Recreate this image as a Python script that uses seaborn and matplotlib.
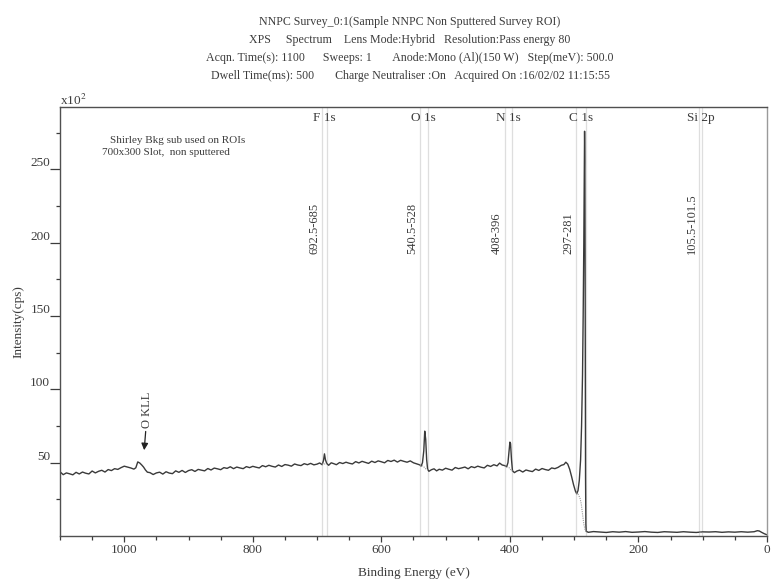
import numpy as np
import pandas as pd
import matplotlib
matplotlib.use("Agg")
import matplotlib.pyplot as plt
import seaborn as sns

# ---- survey spectrum (binding energy in eV, intensity in counts/s x 10^2) ----
binding_energy = [
    1100, 1095, 1090, 1085, 1080, 1075, 1070, 1065, 1060, 1055, 1050, 1045, 1040,
    1035, 1030, 1025, 1020, 1015, 1010, 1005, 1000, 995, 990, 985, 982, 979, 976,
    973, 970, 967, 964, 960, 955, 950, 945, 940, 935, 930, 925, 920, 915, 910, 905,
    900, 895, 890, 885, 880, 875, 870, 865, 860, 855, 850, 845, 840, 835, 830, 825,
    820, 815, 810, 805, 800, 795, 790, 785, 780, 775, 770, 765, 760, 755, 750, 745,
    740, 735, 730, 725, 720, 715, 710, 705, 700, 696, 692, 690, 688.5, 687, 685, 682,
    678, 674, 670, 665, 660, 655, 650, 645, 640, 635, 630, 625, 620, 615, 610, 605,
    600, 595, 590, 585, 580, 575, 570, 565, 560, 555, 550, 545, 541, 538, 536, 534,
    532.5, 531, 529.5, 528, 526, 522, 518, 514, 510, 505, 500, 495, 490, 485, 480,
    475, 470, 465, 460, 455, 450, 445, 440, 435, 430, 425, 420, 416, 412, 408, 405,
    403, 401.5, 400, 399, 397.5, 396, 393, 389, 385, 380, 375, 370, 365, 360, 355,
    350, 345, 340, 335, 330, 325, 320, 316, 313, 310, 307, 304, 301, 298, 296, 294,
    292, 290, 288.5, 287, 286, 285, 284.3, 283.8, 283.3, 282.8, 282.3, 281.8, 281.3,
    278, 270, 260, 250, 240, 230, 220, 210, 200, 190, 180, 170, 160, 150, 140, 130,
    120, 110, 100, 90, 80, 70, 60, 50, 40, 30, 20, 15, 12, 8, 4, 0,
]
intensity = [
    43.8, 41.8, 43.0, 42.4, 41.7, 43.4, 42.3, 43.6, 42.8, 42.3, 44.3, 43.0, 44.1,
    44.8, 43.6, 45.3, 44.6, 45.9, 45.4, 46.6, 47.6, 47.0, 46.4, 45.6, 46.5, 50.5, 49.8,
    48.5, 47.0, 45.0, 43.5, 43.2, 41.9, 43.0, 43.5, 42.2, 43.8, 42.9, 42.5, 44.4, 43.4, 44.7, 43.3,
    44.6, 45.2, 44.0, 45.4, 44.9, 44.4, 46.0, 45.0, 46.3, 45.8, 45.2, 46.6, 46.1, 47.2, 45.9, 47.0,
    46.4, 45.9, 47.3, 46.6, 47.5, 46.9, 46.4, 48.0, 47.2, 48.2, 47.5, 47.0, 48.4, 47.4, 48.7, 48.3,
    47.6, 49.1, 48.4, 48.0, 49.3, 48.6, 49.5, 48.5, 49.0, 49.8, 48.6, 51.5, 56.0, 52.0, 49.5, 48.2,
    49.9, 49.3, 48.6, 50.1, 49.4, 50.3, 49.6, 49.1, 50.7, 49.8, 50.9, 50.2, 49.5, 51.0, 50.1, 51.2,
    50.6, 49.9, 51.5, 50.8, 51.7, 50.4, 51.6, 50.9, 50.3, 51.2, 49.9, 49.2, 48.6, 47.7, 50.0, 58.0,
    71.5, 66.0, 52.0, 45.5, 44.1, 45.2, 45.8, 44.4, 45.5, 44.9, 46.2, 45.5, 44.9, 46.7, 45.9,
    46.4, 47.0, 45.8, 47.3, 46.6, 47.6, 46.9, 46.4, 48.2, 47.4, 48.6, 47.8, 49.7, 48.4, 48.0, 47.2,
    50.0, 57.0, 64.0, 63.0, 52.0, 44.5, 43.2, 44.3, 44.9, 43.6, 45.0, 44.4, 43.9, 45.6, 44.7,
    46.0, 45.3, 44.8, 46.4, 45.9, 46.8, 48.2, 48.7, 50.3, 49.0, 45.5, 40.5, 35.0, 30.5, 28.8, 31.0,
    38.0, 52.0, 75.0, 110.0, 150.0, 200.0, 250.0, 276.0, 255.0, 150.0, 40.0, 8.0, 3.2,
    2.5, 3.0, 2.7, 2.4, 2.9, 2.6, 3.0, 2.5, 2.7, 3.0, 2.6, 2.4, 2.9, 2.7, 2.5, 2.9,
    2.6, 2.4, 2.8, 2.7, 2.9, 2.5, 2.8, 2.6, 2.9, 2.6, 2.9, 3.6, 3.4, 2.4, 1.5, 0.8,
]

# ---- Shirley backgrounds under each region of interest ----
bkg_F_be, bkg_F_int = [692.5, 688.75, 685], [49.0, 49.1, 49.2]
bkg_O_be, bkg_O_int = [540.5, 536, 533, 531, 528], [48.2, 47.8, 46.8, 45.8, 45.3]
bkg_N_be, bkg_N_int = [408, 402, 400, 398, 396], [47.8, 47.0, 45.8, 44.8, 44.3]
bkg_C_be, bkg_C_int = [297, 294, 291, 289, 287, 285, 283, 281], [29.5, 28.5, 26.0, 22.0, 15.0, 8.0, 4.0, 3.0]
bkg_Si_be, bkg_Si_int = [105.5, 101.5], [2.6, 2.6]

# ---- regions of interest ----
roi_names = ["F 1s", "O 1s", "N 1s", "C 1s", "Si 2p"]
roi_high = [692.5, 540.5, 408, 297, 105.5]
roi_low = [685, 528, 396, 281, 101.5]
roi_ranges = ["692.5-685", "540.5-528", "408-396", "297-281", "105.5-101.5"]

# ---- axis ticks ----
x_major = [1000, 800, 600, 400, 200, 0]
x_minor = [1100, 1050, 950, 900, 850, 750, 700, 650, 550, 500, 450, 350, 300, 250, 150, 100, 50]
y_major = [50, 100, 150, 200, 250]
y_minor = [25, 75, 125, 175, 225, 275]

title_lines = [
    "NNPC Survey_0:1(Sample NNPC Non Sputtered Survey ROI)",
    "XPS     Spectrum    Lens Mode:Hybrid   Resolution:Pass energy 80",
    "Acqn. Time(s): 1100      Sweeps: 1       Anode:Mono (Al)(150 W)   Step(meV): 500.0",
    "Dwell Time(ms): 500       Charge Neutraliser :On   Acquired On :16/02/02 11:15:55",
]

sns.set_style("white")
plt.rcParams["font.family"] = ["Liberation Serif", "DejaVu Serif"]
plt.rcParams["mathtext.fontset"] = "stix"

ink = "#3c3c3c"
spec_color = "#3a3a3a"

fig = plt.figure(figsize=(7.71, 5.85), dpi=100)
ax = fig.add_axes([0.0778, 0.0838, 0.9170, 0.7332])

spec = pd.DataFrame({"be": binding_energy, "cps": intensity})
sns.lineplot(data=spec, x="be", y="cps", sort=False, estimator=None,
             color=spec_color, linewidth=1.0, ax=ax)

for bx, by in [(bkg_F_be, bkg_F_int), (bkg_O_be, bkg_O_int), (bkg_N_be, bkg_N_int),
               (bkg_C_be, bkg_C_int), (bkg_Si_be, bkg_Si_int)]:
    sns.lineplot(x=bx, y=by, sort=False, estimator=None, color="#9a9a9a",
                 linewidth=0.8, linestyle=(0, (1, 1)), ax=ax)

ax.set_xlim(1100, 0)
ax.set_ylim(0, 292.5)

# region boundaries, labels and energy windows
for name, hi, lo, rng in zip(roi_names, roi_high, roi_low, roi_ranges):
    ax.axvline(hi, color="#dedede", linewidth=0.9, zorder=0)
    ax.axvline(lo, color="#dedede", linewidth=0.9, zorder=0)
    ax.text((hi + lo) / 2, 285, name, ha="center", va="center",
            fontsize=9.5, color=ink)
    ax.text(hi + 2.5, 192, rng, rotation=90, ha="right", va="bottom",
            fontsize=9, color=ink)

ax.text(0.0707, 0.921, "Shirley Bkg sub used on ROIs", transform=ax.transAxes,
        ha="left", va="center", fontsize=8, color=ink)
ax.text(0.0594, 0.893, "700x300 Slot,  non sputtered", transform=ax.transAxes,
        ha="left", va="center", fontsize=8, color=ink)

ax.annotate("O KLL", xy=(969, 58.5), xytext=(964, 73.5), rotation=90,
            ha="center", va="bottom", fontsize=9, color=ink,
            arrowprops=dict(arrowstyle="-|>", color="#222222", lw=0.9,
                            mutation_scale=10, shrinkA=0, shrinkB=0))

ax.set_xticks(x_major)
ax.set_xticks(x_minor, minor=True)
ax.set_yticks(y_major)
ax.set_yticks(y_minor, minor=True)
ax.set_xticklabels([str(v) for v in x_major])
ax.set_yticklabels([str(v) for v in y_major])

ax.tick_params(axis="x", which="major", direction="out", length=4.5, width=0.9,
               color=ink, labelcolor=ink, labelsize=9.5, pad=1.5, bottom=True)
ax.tick_params(axis="x", which="minor", direction="out", length=3, width=0.9,
               color=ink, bottom=True)
ax.tick_params(axis="y", which="major", direction="out", length=7, width=0.9,
               color=ink, labelcolor=ink, labelsize=9.5, pad=0, left=True)
ax.tick_params(axis="y", which="minor", direction="out", length=3, width=0.9,
               color=ink, left=True)
for lab in ax.get_yticklabels():
    lab.set_verticalalignment("bottom")

for side in ["left", "bottom", "top", "right"]:
    ax.spines[side].set_color("#505050")
    ax.spines[side].set_linewidth(1.0)
ax.spines["right"].set_color("#9a9a9a")

ax.set_xlabel("Binding Energy (eV)", fontsize=9.5, color=ink, labelpad=8)
ax.set_ylabel("Intensity(cps)", fontsize=9.5, color=ink, labelpad=4)

ax.text(0.0, 0.998, r"x10$^{2}$", transform=ax.transAxes, ha="left",
        va="bottom", fontsize=9.5, color=ink)

for i, line in enumerate(title_lines):
    fig.text(0.532, 0.963 - i * 0.0312, line, ha="center", va="center",
             fontsize=8.6, color=ink)

fig.savefig("out.png", dpi=100, facecolor="white")
